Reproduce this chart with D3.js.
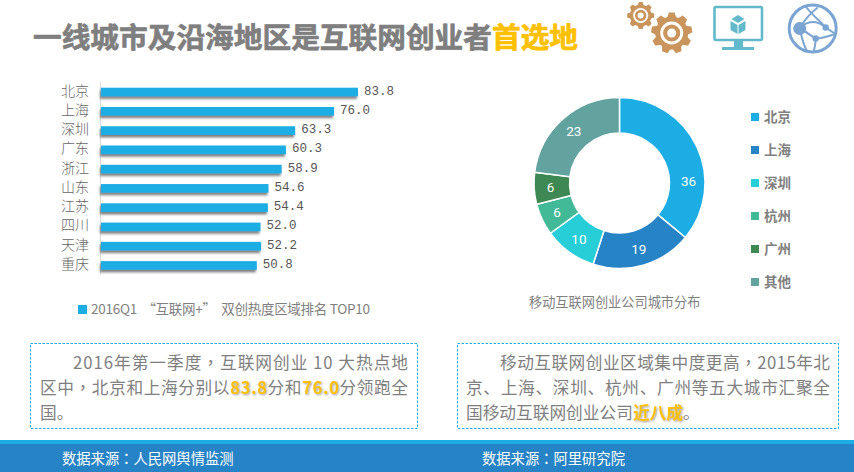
<!DOCTYPE html>
<html>
<head>
<meta charset="utf-8">
<title>一线城市及沿海地区是互联网创业者首选地</title>
<script src="https://cdn.jsdelivr.net/npm/d3@7"></script>
<style>
  html, body { margin: 0; padding: 0; background: #fff; }
  svg { display: block; }
  text { font-family: "Noto Sans CJK SC", "Noto Sans", sans-serif; }
</style>
</head>
<body>
<svg id="chart" width="854" height="472"></svg>
<script>
// data
var cities = ["北京","上海","深圳","广东","浙江","山东","江苏","四川","天津","重庆"];
var scores = [83.8,76.0,63.3,60.3,58.9,54.6,54.4,52.0,52.2,50.8];
var donutNames = ["北京","上海","深圳","杭州","广州","其他"];
var donutValues = [36,19,10,6,6,23];
var donutColors = ["#1cade4","#2683c6","#27ced7","#42ba97","#3e8853","#62a39f"];

var barLegend = "2016Q1  “互联网+”  双创热度区域排名 TOP10";
var donutTitle = "移动互联网创业公司城市分布";

var gray = "#7f7f7f", gold = "#ffc000", blue = "#1cade4";
var svg = d3.select("#chart");

// drop shadow for bars and gold words
var defs = svg.append("defs");
var sh = defs.append("filter").attr("id","barShadow").attr("x","-5%").attr("y","-50%").attr("width","110%").attr("height","220%");
sh.append("feDropShadow").attr("dx",-1).attr("dy",2.5).attr("stdDeviation",1).attr("flood-color","#555").attr("flood-opacity",0.75);
var ts = defs.append("filter").attr("id","textShadow").attr("x","-10%").attr("y","-20%").attr("width","120%").attr("height","150%");
ts.append("feDropShadow").attr("dx",1).attr("dy",1).attr("stdDeviation",0.8).attr("flood-color","#555").attr("flood-opacity",0.6);

// title
var title = svg.append("text").attr("x",33).attr("y",48)
  .attr("font-size",28.7).attr("font-weight",700).attr("stroke-width",0.7);
title.append("tspan").attr("fill",gray).attr("stroke",gray).text("一线城市及沿海地区是互联网创业者");
title.append("tspan").attr("fill",gold).attr("stroke",gold).text("首选地");

// gear icons
function gear(cx, cy, r, teeth) {
  var g = svg.append("g").attr("transform","translate("+cx+","+cy+")");
  d3.range(teeth).forEach(function(i){
    g.append("path").attr("d","M"+(-r*0.24)+" "+(-r*0.7)+"L"+(-r*0.14)+" "+(-r)+"H"+(r*0.14)+"L"+(r*0.24)+" "+(-r*0.7)+"Z")
      .attr("fill","#c9955c").attr("transform","rotate("+(i*360/teeth)+")");
  });
  g.append("circle").attr("r",r*0.8).attr("fill","#c9955c");
  g.append("circle").attr("r",r*0.56).attr("fill","#fff");
  g.append("circle").attr("r",r*0.42).attr("fill","#c9955c");
  g.append("circle").attr("r",r*0.22).attr("fill","#fff");
}
gear(640.7,15.5,13.5,8);
gear(671.7,33,20.5,9);

// monitor icon
var teal = "#62b9cc";
svg.append("rect").attr("x",714.5).attr("y",7).attr("width",47.5).attr("height",33)
  .attr("rx",1.5).attr("fill","none").attr("stroke",teal).attr("stroke-width",2.6);
svg.append("path").attr("d","M734 41H743V47H754V50H722V47H734Z").attr("fill",teal);
svg.append("path").attr("d","M738 15L731.5 19L738 23L744.5 19Z").attr("fill",teal);
svg.append("path").attr("d","M730.5 21L737.5 25V34L730.5 30Z").attr("fill",teal);
svg.append("path").attr("d","M745.5 21L738.5 25V34L745.5 30Z").attr("fill",teal);

// globe icon
var globeBlue = "#7aa5d2";
var globe = svg.append("g").attr("transform","translate(812.7,28.5)");
globe.append("circle").attr("r",23.5).attr("fill","none").attr("stroke",globeBlue).attr("stroke-width",3);
var spokes = ["M-13 0C-8 -9 -3 -15 5 -21","M-13 0C-11 8 -10 15 -6 22","M-13 0C-5 -9 5 -8 13 -1","M-13 0C-7 3 -2 7 3 10",
              "M-7 -22C0 -13 7 -8 13 -1","M13 -1C16 1 19 3 22 5","M3 10C9 10 15 8 21 6","M3 10C3 15 2 19 1 23"];
globe.selectAll("path").data(spokes).enter().append("path").attr("d",function(d){ return d; })
  .attr("fill","none").attr("stroke",globeBlue).attr("stroke-width",2);
globe.append("circle").attr("cx",-13).attr("cy",0).attr("r",6.5).attr("fill",globeBlue);
globe.append("circle").attr("cx",13).attr("cy",-1).attr("r",3.2).attr("fill",globeBlue);
globe.append("circle").attr("cx",3).attr("cy",10).attr("r",3.2).attr("fill",globeBlue);

// bar chart
var x = d3.scaleLinear().domain([0,83.8]).range([0,257]);
var y = d3.scaleBand().domain(cities).range([82.5,275]).paddingInner(0.55).paddingOuter(0.27);
var barG = svg.append("g").attr("transform","translate(101,0)");

barG.append("line").attr("x1",-0.5).attr("x2",-0.5).attr("y1",82).attr("y2",275)
  .attr("stroke","#d9d9d9").attr("stroke-width",1);

barG.selectAll("rect.bar").data(scores).enter().append("rect")
  .attr("class","bar")
  .attr("x",0)
  .attr("y",function(d,i){ return y(cities[i]); })
  .attr("width",function(d){ return x(d); })
  .attr("height",y.bandwidth())
  .attr("fill",blue)
  .attr("filter","url(#barShadow)");

barG.selectAll("text.cat").data(cities).enter().append("text")
  .attr("class","cat")
  .attr("x",-12)
  .attr("y",function(d){ return y(d)+y.bandwidth()/2+3.5; })
  .attr("text-anchor","end")
  .attr("font-size",14)
  .attr("font-weight",300)
  .attr("fill","#666")
  .text(function(d){ return d; });

barG.selectAll("text.val").data(scores).enter().append("text")
  .attr("class","val")
  .attr("x",function(d){ return x(d)+6; })
  .attr("y",function(d,i){ return y(cities[i])+y.bandwidth()/2+2.5; })
  .attr("font-size",12.5)
  .attr("fill","#555")
  .style("font-family","'Liberation Mono', monospace")
  .text(function(d){ return d.toFixed(1); });

svg.append("rect").attr("x",78).attr("y",305).attr("width",9).attr("height",9).attr("fill",blue);
svg.append("text").attr("x",91).attr("y",314).attr("font-size",13.5).attr("fill",gray)
  .attr("textLength",279).attr("xml:space","preserve").style("white-space","pre").text(barLegend);

// donut
var pie = d3.pie().sort(null).value(function(d){ return d; });
var arc = d3.arc().innerRadius(50).outerRadius(85.5);
var labelArc = d3.arc().innerRadius(69).outerRadius(69);
var donut = svg.append("g").attr("transform","translate(619.5,183)");
var arcs = pie(donutValues);
donut.selectAll("path").data(arcs).enter().append("path")
  .attr("d",arc)
  .attr("fill",function(d,i){ return donutColors[i]; })
  .attr("stroke","#fff").attr("stroke-width",1.5);
donut.selectAll("text").data(arcs).enter().append("text")
  .attr("transform",function(d,i){
    // the label of the biggest slice sits lower than its centroid in the original
    if (i === 0) return "translate(69,-2)";
    return "translate("+labelArc.centroid(d)+")";
  })
  .attr("text-anchor","middle").attr("dy","0.36em")
  .attr("font-size",13.5).attr("fill","#fff")
  .style("font-family","Roboto, sans-serif")
  .text(function(d){ return d.data; });
svg.append("text").attr("x",529).attr("y",307).attr("font-size",13.2).attr("fill",gray).text(donutTitle);

// donut legend
var ly = d3.scalePoint().domain(donutNames).range([117,282]);
var leg = svg.selectAll("g.leg").data(donutNames).enter().append("g").attr("class","leg")
  .attr("transform",function(d){ return "translate(751,"+ly(d)+")"; });
leg.append("rect").attr("x",0).attr("y",-4).attr("width",8).attr("height",8)
  .attr("fill",function(d,i){ return donutColors[i]; });
leg.append("text").attr("x",13).attr("y",5).attr("font-size",13.5).attr("font-weight",700)
  .attr("fill",gray).text(function(d){ return d; });

// text boxes
svg.append("rect").attr("x",30.5).attr("y",343.5).attr("width",387).attr("height",85)
  .attr("fill","none").attr("stroke",blue).attr("stroke-dasharray","2.5 1.5");
svg.append("rect").attr("x",457.5).attr("y",343.5).attr("width",381).attr("height",85)
  .attr("fill","none").attr("stroke",blue).attr("stroke-dasharray","2.5 1.5");

// ，and ： are centred in the original, the TC cut of the font draws them that way
function addRuns(t, str) {
  str.split(/([，：])/).forEach(function(run){
    if (!run) return;
    var s = t.append("tspan").text(run);
    if (run === "，" || run === "：") s.style("font-family","'Noto Sans CJK TC'");
  });
}
function para(px, py, width, parts) {
  var t = svg.append("text").attr("x",px).attr("y",py).attr("font-size",16.7).attr("fill",gray);
  if (width) t.attr("textLength",width).attr("lengthAdjust","spacing");
  parts.forEach(function(p){
    if (p.hi) {
      t.append("tspan").text(p.t).attr("fill",gold).attr("font-weight",700).attr("filter","url(#textShadow)");
    } else {
      addRuns(t, p.t);
    }
  });
}
para(73,369,335,[{t:"2016年第一季度，互联网创业 10 大热点地"}]);
para(40,394,368,[{t:"区中，北京和上海分别以"},{t:"83.8",hi:1},{t:"分和"},{t:"76.0",hi:1},{t:"分领跑全"}]);
para(40,419,0,[{t:"国。"}]);
para(500,369,330,[{t:"移动互联网创业区域集中度更高，2015年北"}]);
para(466,394,364,[{t:"京、上海、深圳、杭州、广州等五大城市汇聚全"}]);
para(466,419,0,[{t:"国移动互联网创业公司"},{t:"近八成",hi:1},{t:"。"}]);

// footer
svg.append("rect").attr("x",0).attr("y",440).attr("width",854).attr("height",4).attr("fill",blue);
svg.append("rect").attr("x",0).attr("y",444).attr("width",854).attr("height",28).attr("fill","#2683c6");
var f1 = svg.append("text").attr("x",62).attr("y",464).attr("font-size",14.3).attr("fill","#fff");
addRuns(f1,"数据来源：人民网舆情监测");
var f2 = svg.append("text").attr("x",482).attr("y",464).attr("font-size",14.3).attr("fill","#fff");
addRuns(f2,"数据来源：阿里研究院");
</script>
</body>
</html>
